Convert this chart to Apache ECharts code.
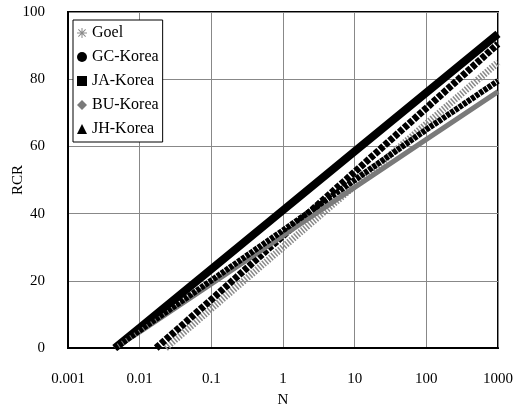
<!DOCTYPE html>
<html>
<head>
<meta charset="utf-8">
<script src="https://cdn.jsdelivr.net/npm/echarts@6/dist/echarts.min.js"></script>
<style>
  html, body { margin: 0; padding: 0; background: #fff; }
  #chart { width: 525px; height: 409px; }
</style>
</head>
<body>
<div id="chart"></div>
<script>
// values (N on log scale, RCR)
const seriesNames = ["Goel", "GC-Korea", "JA-Korea", "BU-Korea", "JH-Korea"];
const goelN = [0.023, 0.1, 1, 10, 100, 1000];
const goelRCR = [0, 11.7, 30.0, 48.3, 66.7, 85.0];
const gcN = [0.0045, 0.01, 0.1, 1, 10, 100, 1000];
const gcRCR = [0, 6.0, 23.5, 41.0, 58.5, 76.0, 93.5];
const jaN = [0.017, 0.1, 1, 10, 100, 1000];
const jaRCR = [0, 14.4, 33.4, 52.4, 71.4, 90.5];
const buN = [0.0045, 0.01, 0.1, 1, 10, 100, 1000];
const buRCR = [0, 4.8, 19.1, 33.4, 47.8, 62.1, 76.3];
const jhN = [0.0045, 0.01, 0.1, 1, 10, 100, 1000];
const jhRCR = [0, 5.2, 20.1, 35.0, 50.0, 65.0, 79.5];
const xTickLabels = ["0.001", "0.01", "0.1", "1", "10", "100", "1000"];
const yTickLabels = ["0", "20", "40", "60", "80", "100"];

const font = "Liberation Serif";
const asterisk = "path://M0,4.5L10,4.5L10,5.5L0,5.5Z M4.5,0L5.5,0L5.5,10L4.5,10Z M1.7,1L9,8.3L8.3,9L1,1.7Z M8.3,1L9,1.7L1.7,9L1,8.3Z";

const pairs = (xs, ys) => xs.map((x, i) => [x, ys[i]]);

const chart = echarts.init(document.getElementById("chart"));

chart.setOption({
  animation: false,
  grid: {
    left: 68, right: 27, top: 12, bottom: 61,
    outerBoundsMode: "none",
    show: true, borderColor: "#000", borderWidth: 2
  },
  legend: {
    orient: "vertical",
    left: 73, top: 20,
    padding: [5, 4, 5, 4],
    itemGap: 8,
    itemWidth: 10, itemHeight: 10,
    backgroundColor: "#fff",
    borderColor: "#000", borderWidth: 1,
    borderRadius: 0,
    textStyle: { fontFamily: font, fontSize: 16, color: "#000" },
    data: [
      { name: "Goel", icon: asterisk },
      { name: "GC-Korea", icon: "circle" },
      { name: "JA-Korea", icon: "rect" },
      { name: "BU-Korea", icon: "diamond" },
      { name: "JH-Korea", icon: "triangle" }
    ]
  },
  xAxis: {
    type: "log", logBase: 10, min: 0.001, max: 1000,
    name: "N", nameLocation: "middle", nameGap: 45,
    nameMoveOverlap: false,
    nameTextStyle: { fontFamily: font, fontSize: 15, color: "#000" },
    axisLine: { lineStyle: { color: "#000", width: 2 } },
    axisTick: { show: false },
    minorTick: { show: false },
    axisLabel: {
      margin: 24, fontFamily: font, fontSize: 15, color: "#000",
      formatter: v => xTickLabels[Math.round(Math.log10(v)) + 3]
    },
    splitLine: { show: true, lineStyle: { color: "#888", width: 1 } }
  },
  yAxis: {
    type: "value", min: 0, max: 100, interval: 20,
    name: "RCR", nameLocation: "middle", nameGap: 42,
    nameMoveOverlap: false,
    nameTextStyle: { fontFamily: font, fontSize: 15, color: "#000" },
    axisLine: { show: true, lineStyle: { color: "#000", width: 2 } },
    axisTick: { show: false },
    axisLabel: {
      margin: 23, fontFamily: font, fontSize: 15, color: "#000",
      formatter: v => yTickLabels[Math.round(v / 20)]
    },
    splitLine: { show: true, lineStyle: { color: "#888", width: 1 } }
  },
  series: [
    {
      name: seriesNames[0], type: "line", data: pairs(goelN, goelRCR),
      showSymbol: false, symbol: asterisk,
      itemStyle: { color: "#8a8a8a" },
      lineStyle: { color: "#8a8a8a", width: 7, type: [1.5, 1.5] }
    },
    {
      name: seriesNames[1], type: "line", data: pairs(gcN, gcRCR),
      showSymbol: false, symbol: "circle",
      itemStyle: { color: "#000" },
      lineStyle: { color: "#000", width: 8 }
    },
    {
      name: seriesNames[2], type: "line", data: pairs(jaN, jaRCR),
      showSymbol: false, symbol: "rect",
      itemStyle: { color: "#000" },
      lineStyle: { color: "#000", width: 7, type: [5, 1.5] }
    },
    {
      name: seriesNames[3], type: "line", data: pairs(buN, buRCR),
      showSymbol: false, symbol: "diamond",
      itemStyle: { color: "#7a7a7a" },
      lineStyle: { color: "#7a7a7a", width: 5 }
    },
    {
      name: seriesNames[4], type: "line", data: pairs(jhN, jhRCR),
      showSymbol: false, symbol: "triangle",
      itemStyle: { color: "#000" },
      lineStyle: { color: "#000", width: 6, type: [4, 1] }
    }
  ]
});
</script>
</body>
</html>
